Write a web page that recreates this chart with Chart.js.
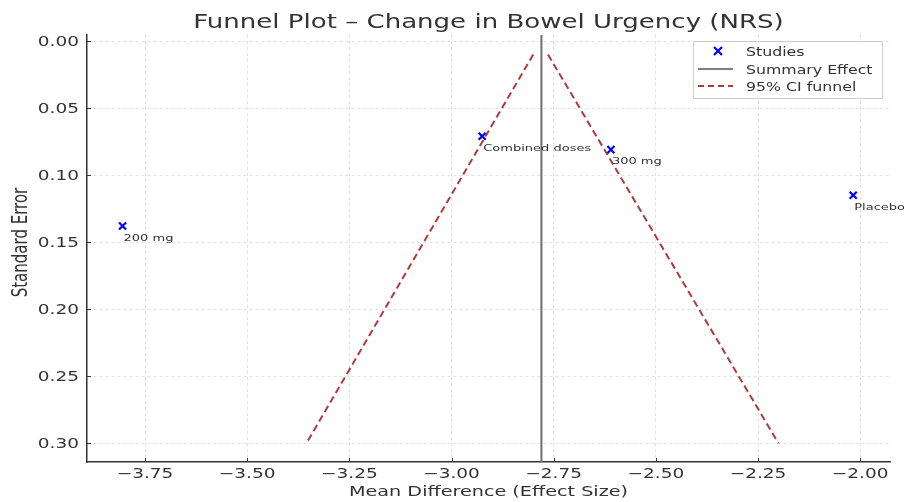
<!DOCTYPE html>
<html>
<head>
<meta charset="utf-8">
<script src="https://cdn.jsdelivr.net/npm/chart.js@4.4.1/dist/chart.umd.min.js"></script>
<style>
  html, body { margin: 0; padding: 0; background: #fff; }
  #wrap { width: 904px; height: 502px; }
</style>
</head>
<body>
<div id="wrap"><canvas id="funnel"></canvas></div>
<script>
// dados
var studyNames = ["200 mg", "Combined doses", "300 mg", "Placebo"];
var effectSizes = [-3.805, -2.925, -2.61, -2.017];
var standardErrors = [0.138, 0.071, 0.081, 0.115];
var summaryEffect = -2.78;
var funnelLeft = [[-2.80, 0.01], [-3.355, 0.30]];
var funnelRight = [[-2.764, 0.01], [-2.20, 0.30]];
var xTicks = [-3.75, -3.5, -3.25, -3.0, -2.75, -2.5, -2.25, -2.0];
var yTicks = [0.00, 0.05, 0.10, 0.15, 0.20, 0.25, 0.30];

var xMin = -3.892, xMax = -1.927;
var yMin = -0.0045, yMax = 0.314;

var corTexto = "#333333";
var corFunil = "#b03a3a";
var esticar = 1.37; // o texto da imagem original é mais largo
var fonte = "'DejaVu Sans', sans-serif";

function formatar(v, casas) {
  var s = Math.abs(v).toFixed(casas);
  return (v < 0 ? "\u2212" : "") + s;
}

// escreve texto esticado na horizontal
function escrever(ctx, str, x, y, tamanho, alinhar, girar) {
  ctx.save();
  ctx.translate(x, y);
  ctx.scale(esticar, 1);
  if (girar) ctx.rotate(-Math.PI / 2);
  ctx.font = tamanho + "px " + fonte;
  ctx.textAlign = alinhar;
  ctx.textBaseline = "alphabetic";
  ctx.fillText(str, 0, 0);
  ctx.restore();
}

var pontos = effectSizes.map(function (x, i) {
  return { x: x, y: standardErrors[i] };
});

// textos, legenda e ticks para dentro
var extras = {
  id: "extras",
  afterDraw: function (chart) {
    var ctx = chart.ctx;
    var xs = chart.scales.x, ys = chart.scales.y;
    var area = chart.chartArea;
    var meio = (area.left + area.right) / 2;
    ctx.save();

    // ticks para dentro
    ctx.strokeStyle = "#333333";
    ctx.lineWidth = 1;
    xTicks.forEach(function (t) {
      var px = Math.round(xs.getPixelForValue(t)) + 0.5;
      ctx.beginPath();
      ctx.moveTo(px, area.bottom);
      ctx.lineTo(px, area.bottom - 4);
      ctx.stroke();
    });
    yTicks.forEach(function (t) {
      var py = Math.round(ys.getPixelForValue(t)) + 0.5;
      ctx.beginPath();
      ctx.moveTo(area.left, py);
      ctx.lineTo(area.left + 4, py);
      ctx.stroke();
    });

    ctx.fillStyle = corTexto;

    // rótulos dos ticks
    xTicks.forEach(function (t) {
      escrever(ctx, formatar(t, 2), xs.getPixelForValue(t), area.bottom + 15.5, 13.5, "center");
    });
    yTicks.forEach(function (t) {
      escrever(ctx, formatar(t, 2), area.left - 8, ys.getPixelForValue(t) + 5, 13.5, "right");
    });

    // títulos
    escrever(ctx, "Funnel Plot \u2013 Change in Bowel Urgency (NRS)", meio, 27.5, 19, "center");
    escrever(ctx, "Mean Difference (Effect Size)", meio, 496, 14, "center");
    escrever(ctx, "Standard Error", 27, (area.top + area.bottom) / 2 - 6, 15, "center", true);

    // rótulos dos estudos
    studyNames.forEach(function (nome, i) {
      var px = xs.getPixelForValue(effectSizes[i]);
      var py = ys.getPixelForValue(standardErrors[i]);
      escrever(ctx, nome, px + 1, py + 14.5, 9.5, "left");
    });

    // legenda
    var lx = 693, ly = area.top + 6, lw = 189, lh = 57;
    ctx.fillStyle = "rgba(255,255,255,0.85)";
    ctx.strokeStyle = "#cccccc";
    ctx.lineWidth = 1;
    ctx.beginPath();
    ctx.rect(lx + 0.5, ly + 0.5, lw, lh);
    ctx.fill();
    ctx.stroke();

    var rows = [ly + 10, ly + 28, ly + 45];
    var sx0 = lx + 5, sx1 = lx + 40, tx = lx + 53;

    // Studies
    ctx.strokeStyle = "#0000ff";
    ctx.lineWidth = 2.2;
    var cx = lx + 25, cy = rows[0];
    ctx.beginPath();
    ctx.moveTo(cx - 4, cy - 4); ctx.lineTo(cx + 4, cy + 4);
    ctx.moveTo(cx - 4, cy + 4); ctx.lineTo(cx + 4, cy - 4);
    ctx.stroke();

    // Summary
    ctx.strokeStyle = "#808080";
    ctx.lineWidth = 2;
    ctx.beginPath();
    ctx.moveTo(sx0, rows[1]); ctx.lineTo(sx1, rows[1]);
    ctx.stroke();

    // funil
    ctx.strokeStyle = corFunil;
    ctx.setLineDash([6, 4]);
    ctx.beginPath();
    ctx.moveTo(sx0, rows[2]); ctx.lineTo(sx1, rows[2]);
    ctx.stroke();
    ctx.setLineDash([]);

    ctx.fillStyle = corTexto;
    escrever(ctx, "Studies", tx, rows[0] + 4.5, 11.5, "left");
    escrever(ctx, "Summary Effect", tx, rows[1] + 4.5, 11.5, "left");
    escrever(ctx, "95% CI funnel", tx, rows[2] + 4.5, 11.5, "left");

    ctx.restore();
  }
};

var ctx = document.getElementById("funnel").getContext("2d");
var grafico = new Chart(ctx, {
  type: "scatter",
  data: {
    datasets: [
      {
        label: "95% CI funnel",
        type: "line",
        data: funnelLeft.map(function (p) { return { x: p[0], y: p[1] }; }),
        borderColor: corFunil,
        borderWidth: 2,
        borderDash: [7, 4],
        pointRadius: 0,
        fill: false,
        order: 3
      },
      {
        label: "95% CI funnel (right)",
        type: "line",
        data: funnelRight.map(function (p) { return { x: p[0], y: p[1] }; }),
        borderColor: corFunil,
        borderWidth: 2,
        borderDash: [7, 4],
        pointRadius: 0,
        fill: false,
        order: 3
      },
      {
        label: "Summary Effect",
        type: "line",
        data: [{ x: summaryEffect, y: yMin }, { x: summaryEffect, y: yMax }],
        borderColor: "#6e6e6e",
        borderWidth: 2,
        pointRadius: 0,
        fill: false,
        order: 2
      },
      {
        label: "Studies",
        data: pontos,
        pointStyle: "crossRot",
        pointRadius: 5,
        pointHoverRadius: 5,
        borderColor: "#0000ff",
        backgroundColor: "#0000ff",
        borderWidth: 2.2,
        order: 1
      }
    ]
  },
  options: {
    responsive: true,
    maintainAspectRatio: false,
    animation: false,
    layout: { padding: { left: 0, right: 14, top: 35, bottom: 0 } },
    plugins: {
      legend: { display: false },
      tooltip: { enabled: false },
      title: { display: false }
    },
    scales: {
      x: {
        type: "linear",
        min: xMin,
        max: xMax,
        afterBuildTicks: function (scale) {
          scale.ticks = xTicks.map(function (v) { return { value: v }; });
        },
        afterFit: function (scale) { scale.height = 40; },
        ticks: { display: false },
        grid: { color: "#d9d9d9", lineWidth: 0.8, drawTicks: false },
        border: { display: true, color: "#333333", width: 1.5, dash: [3, 3] },
        title: { display: false }
      },
      y: {
        type: "linear",
        reverse: true,
        min: yMin,
        max: yMax,
        afterBuildTicks: function (scale) {
          scale.ticks = yTicks.map(function (v) { return { value: v }; });
        },
        afterFit: function (scale) { scale.width = 87; },
        ticks: { display: false },
        grid: { color: "#d9d9d9", lineWidth: 0.8, drawTicks: false },
        border: { display: true, color: "#333333", width: 1.5, dash: [3, 3] },
        title: { display: false }
      }
    }
  },
  plugins: [extras]
});
</script>
</body>
</html>
